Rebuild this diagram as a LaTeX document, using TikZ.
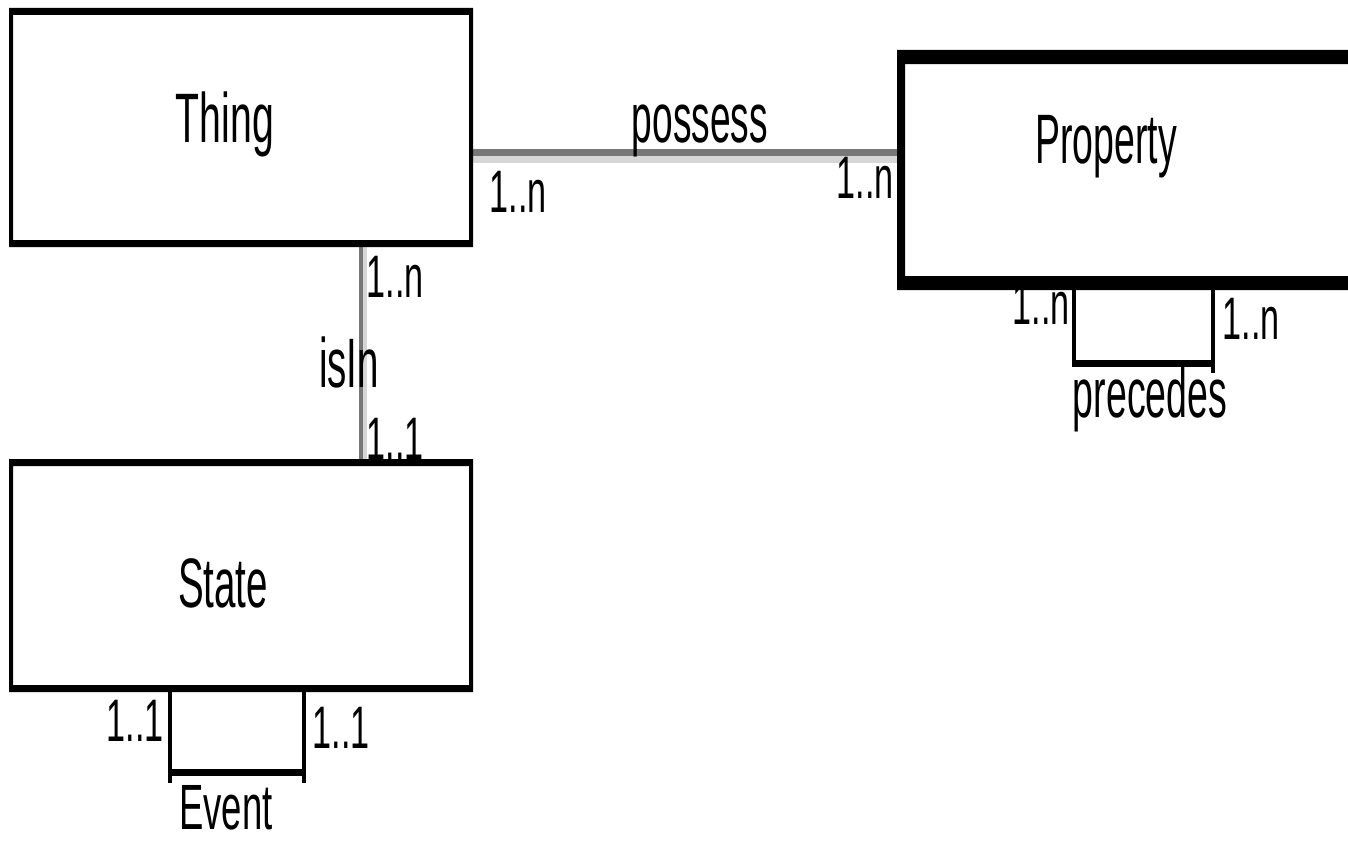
\documentclass[tikz,border=0pt]{standalone}
\usepackage{fontspec}
\setmainfont{Liberation Sans}
\usetikzlibrary{calc}
\definecolor{linkdark}{HTML}{777777}
\definecolor{linklight}{HTML}{D6D6D6}
% frame of a named box: #2 = width of the vertical sides, #3 = width of the horizontal sides
\newcommand{\entityframe}[3]{%
  \fill[black, even odd rule]
    ($(#1.north west)+(-#2/2,-#3/2)$) rectangle ($(#1.south east)+(#2/2,#3/2)$)
    ($(#1.north west)+(#2/2,#3/2)$) rectangle ($(#1.south east)+(-#2/2,-#3/2)$);}
\newcommand{\condensed}[2]{\scalebox{#1}[1]{#2}}
\begin{document}
\begin{tikzpicture}[x=1pt,y=-1pt,
  entity/.style={rectangle, inner sep=0pt, outer sep=0pt, minimum width=460pt},
  title/.style={inner sep=0pt, anchor=base, font=\fontsize{70}{70}\selectfont},
  card/.style={inner sep=0pt, anchor=base, font=\fontsize{60}{60}\selectfont},
  darkband/.style={draw=linkdark, line width=#1},
  lightband/.style={draw=linklight, line width=#1},
  loopside/.style={draw=black, line width=4pt},
  loopbase/.style={draw=black, line width=7pt}]
\useasboundingbox (0,0) rectangle (1348,843);
\clip (0,0) rectangle (1348,843);
\fill[white] (0,0) rectangle (1348,843);

% entity boxes (centre lines of their frames)
\node[entity, minimum height=232pt] (Thing) at (241,127.5) {};
\node[entity, minimum height=226pt] (State) at (241,575.5) {};
\node[entity, minimum height=226pt] (Property) at (1131,170) {};

% possess: Thing -- Property
\coordinate (possDark) at (0,152.5);
\coordinate (possLight) at (0,159.5);
\draw[darkband=7pt] (Thing.east |- possDark) -- (Property.west |- possDark);
\draw[lightband=7pt] (Thing.east |- possLight) -- (Property.west |- possLight);

% isIn: Thing -- State
\coordinate (isDark) at (361,0);
\coordinate (isLight) at (365,0);
\draw[darkband=4pt] (Thing.south -| isDark) -- (State.north -| isDark);
\draw[lightband=4pt] (Thing.south -| isLight) -- (State.north -| isLight);

% precedes: Property -- Property
\coordinate (precL) at (1074,367);
\coordinate (precR) at (1213,373);
\coordinate (precBL) at (1072,363.5);
\coordinate (precBR) at (1215,363.5);
\draw[loopside] (Property.south -| precL) -- (precL);
\draw[loopside] (Property.south -| precR) -- (precR);
\draw[loopbase] (precBL) -- (precBR);

% Event: State -- State
\coordinate (evL) at (170,783);
\coordinate (evR) at (304,783);
\coordinate (evBL) at (168,772);
\coordinate (evBR) at (306,772);
\draw[loopside] (State.south -| evL) -- (evL);
\draw[loopside] (State.south -| evR) -- (evR);
\draw[loopbase] (evBL) -- (evBR);

% frames
\entityframe{Thing}{4}{7}
\entityframe{State}{4}{7}
\entityframe{Property}{8}{14}

% names
\node[title] (tThing) at (225,142) {\condensed{0.56}{Thing}};
\node[title] (tProperty) at (1106,163) {\condensed{0.535}{Property}};
\node[title] (tState) at (223,607) {\condensed{0.55}{State}};
\node[title] (tPossess) at (700,142) {\condensed{0.53}{possess}};
\node[title] (tIsIn) at (349,387) {\condensed{0.55}{isIn}};
\node[title] (tPrecedes) at (1150,417) {\condensed{0.535}{precedes}};
\node[title, font=\fontsize{64}{64}\selectfont] (tEvent) at (226,829) {\condensed{0.57}{Event}};

% cardinalities
\node[card] (c1) at (518,212) {\condensed{0.57}{1..n}};
\node[card] (c2) at (865,198) {\condensed{0.57}{1..n}};
\node[card] (c3) at (395,297) {\condensed{0.57}{1..n}};
\node[card] (c4) at (395,459) {\condensed{0.57}{1..1}};
\node[card] (c5) at (1041,324) {\condensed{0.57}{1..n}};
\node[card] (c6) at (1251,339) {\condensed{0.57}{1..n}};
\node[card] (c7) at (135,741) {\condensed{0.57}{1..1}};
\node[card] (c8) at (341,748) {\condensed{0.57}{1..1}};
\end{tikzpicture}
\end{document}
